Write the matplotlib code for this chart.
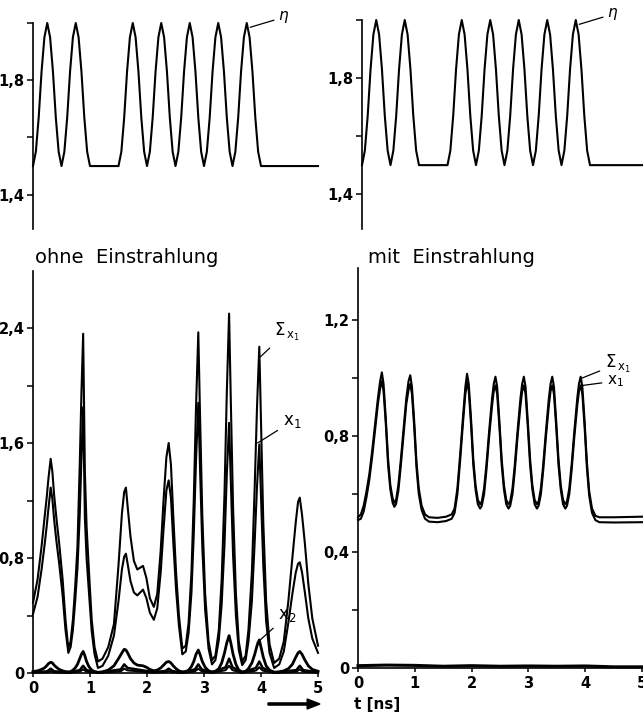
import numpy as np
import matplotlib
matplotlib.use("Agg")
import matplotlib.pyplot as plt

plt.rcParams['font.family'] = ['DejaVu Sans']
plt.rcParams['mathtext.fontset'] = 'dejavusans'

# --- eta (top panels), sampled every 0.05 ns ---
t_eta = np.linspace(0, 5, 101)
eta = [1.50, 1.55, 1.67, 1.83, 1.95, 2.00, 1.95, 1.83, 1.67, 1.55,
       1.50, 1.55, 1.67, 1.83, 1.95, 2.00, 1.95, 1.83, 1.67, 1.55,
       1.50, 1.50, 1.50, 1.50, 1.50, 1.50, 1.50, 1.50, 1.50, 1.50,
       1.50, 1.55, 1.67, 1.83, 1.95, 2.00, 1.95, 1.83, 1.67, 1.55,
       1.50, 1.55, 1.67, 1.83, 1.95, 2.00, 1.95, 1.83, 1.67, 1.55,
       1.50, 1.55, 1.67, 1.83, 1.95, 2.00, 1.95, 1.83, 1.67, 1.55,
       1.50, 1.55, 1.67, 1.83, 1.95, 2.00, 1.95, 1.83, 1.67, 1.55,
       1.50, 1.55, 1.67, 1.83, 1.95, 2.00, 1.95, 1.83, 1.67, 1.55,
       1.50, 1.50, 1.50, 1.50, 1.50, 1.50, 1.50, 1.50, 1.50, 1.50,
       1.50, 1.50, 1.50, 1.50, 1.50, 1.50, 1.50, 1.50, 1.50, 1.50,
       1.50]

# --- ohne Einstrahlung ---
t_left = [0.00, 0.08, 0.15, 0.20, 0.24, 0.27, 0.31, 0.34, 0.37, 0.41,
          0.46, 0.52, 0.57, 0.62, 0.66, 0.70, 0.74, 0.78, 0.82, 0.85,
          0.88, 0.91, 0.94, 0.98, 1.03, 1.08, 1.14, 1.22, 1.32, 1.42,
          1.50, 1.56, 1.60, 1.63, 1.66, 1.71, 1.77, 1.83, 1.93, 1.99,
          2.05, 2.12, 2.18, 2.24, 2.29, 2.34, 2.38, 2.42, 2.46, 2.51,
          2.56, 2.62, 2.68, 2.73, 2.78, 2.82, 2.86, 2.90, 2.93, 2.97,
          3.02, 3.08, 3.14, 3.20, 3.26, 3.31, 3.36, 3.40, 3.44, 3.47,
          3.51, 3.56, 3.61, 3.67, 3.73, 3.78, 3.84, 3.89, 3.93, 3.97,
          4.00, 4.04, 4.09, 4.15, 4.23, 4.32, 4.40, 4.48, 4.55, 4.61,
          4.65, 4.68, 4.72, 4.77, 4.83, 4.90, 5.00]
sum_left = [0.49, 0.65, 0.88, 1.07, 1.22, 1.35, 1.49, 1.40, 1.24, 1.08,
            0.90, 0.65, 0.37, 0.17, 0.22, 0.37, 0.60, 0.88, 1.45, 1.95,
            2.36, 1.40, 1.02, 0.72, 0.37, 0.18, 0.08, 0.10, 0.18, 0.34,
            0.75, 1.11, 1.26, 1.29, 1.16, 0.95, 0.78, 0.72, 0.745, 0.66,
            0.52, 0.46, 0.55, 0.85, 1.20, 1.50, 1.60, 1.45, 1.10, 0.70,
            0.40, 0.17, 0.19, 0.35, 0.70, 1.20, 1.85, 2.37, 1.80, 1.10,
            0.55, 0.22, 0.09, 0.12, 0.30, 0.65, 1.25, 1.95, 2.50, 1.90,
            1.15, 0.55, 0.22, 0.08, 0.12, 0.30, 0.70, 1.30, 1.85, 2.27,
            1.75, 1.05, 0.50, 0.20, 0.07, 0.10, 0.22, 0.50, 0.80, 1.05,
            1.19, 1.22, 1.10, 0.90, 0.62, 0.38, 0.19]
x1_left = [0.41, 0.53, 0.72, 0.88, 1.02, 1.14, 1.29, 1.21, 1.07, 0.92,
           0.76, 0.54, 0.30, 0.14, 0.18, 0.30, 0.50, 0.73, 1.10, 1.50,
           1.85, 1.08, 0.80, 0.57, 0.29, 0.13, 0.035, 0.05, 0.12, 0.26,
           0.50, 0.72, 0.81, 0.83, 0.76, 0.64, 0.56, 0.54, 0.58, 0.52,
           0.42, 0.37, 0.45, 0.70, 1.00, 1.27, 1.34, 1.22, 0.92, 0.58,
           0.33, 0.13, 0.15, 0.28, 0.56, 0.96, 1.48, 1.88, 1.43, 0.88,
           0.44, 0.17, 0.06, 0.09, 0.23, 0.48, 0.90, 1.38, 1.74, 1.34,
           0.82, 0.40, 0.16, 0.055, 0.09, 0.22, 0.50, 0.92, 1.30, 1.59,
           1.23, 0.75, 0.36, 0.14, 0.035, 0.06, 0.15, 0.35, 0.55, 0.70,
           0.76, 0.77, 0.70, 0.56, 0.38, 0.24, 0.14]
x2_left = [0.010, 0.015, 0.025, 0.035, 0.050, 0.065, 0.075, 0.070, 0.055, 0.040,
           0.025, 0.015, 0.010, 0.008, 0.010, 0.020, 0.035, 0.060, 0.100, 0.130,
           0.150, 0.120, 0.080, 0.045, 0.020, 0.010, 0.005, 0.008, 0.020, 0.050,
           0.100, 0.140, 0.165, 0.160, 0.140, 0.100, 0.070, 0.055, 0.050, 0.040,
           0.025, 0.015, 0.020, 0.035, 0.055, 0.075, 0.080, 0.070, 0.050, 0.030,
           0.015, 0.008, 0.010, 0.020, 0.045, 0.080, 0.130, 0.160, 0.130, 0.080,
           0.040, 0.015, 0.008, 0.012, 0.030, 0.070, 0.140, 0.210, 0.260, 0.210,
           0.130, 0.060, 0.020, 0.008, 0.012, 0.030, 0.070, 0.130, 0.190, 0.230,
           0.180, 0.110, 0.050, 0.020, 0.006, 0.008, 0.015, 0.030, 0.060, 0.110,
           0.140, 0.150, 0.130, 0.090, 0.050, 0.025, 0.012]

t_small = [0.00, 0.25, 0.31, 0.37, 0.62, 0.82, 0.88, 0.94, 1.14, 1.54,
           1.60, 1.66, 1.90, 2.12, 2.32, 2.38, 2.44, 2.62, 2.84, 2.90,
           2.96, 3.14, 3.38, 3.44, 3.50, 3.67, 3.91, 3.97, 4.03, 4.23,
           4.62, 4.68, 4.74, 5.00]
x3_left = [0.004, 0.012, 0.03, 0.012, 0.003, 0.02, 0.05, 0.02, 0.002, 0.025,
           0.06, 0.035, 0.02, 0.006, 0.014, 0.03, 0.014, 0.003, 0.025, 0.06,
           0.025, 0.003, 0.04, 0.10, 0.04, 0.003, 0.035, 0.08, 0.035, 0.003,
           0.02, 0.05, 0.02, 0.005]
x4_left = [0.002, 0.005, 0.012, 0.005, 0.001, 0.01, 0.025, 0.01, 0.001, 0.012,
           0.03, 0.018, 0.01, 0.003, 0.006, 0.012, 0.006, 0.001, 0.012, 0.03,
           0.012, 0.001, 0.02, 0.05, 0.02, 0.001, 0.017, 0.04, 0.017, 0.001,
           0.01, 0.025, 0.01, 0.002]

# --- mit Einstrahlung ---
t_right = [0.00, 0.05, 0.10, 0.15, 0.20, 0.25, 0.30, 0.35, 0.39, 0.42,
           0.45, 0.49, 0.53, 0.57, 0.61, 0.64, 0.67, 0.71, 0.75, 0.80,
           0.85, 0.89, 0.92, 0.95, 0.99, 1.03, 1.07, 1.12, 1.18, 1.25,
           1.40, 1.55, 1.65, 1.70, 1.75, 1.80, 1.85, 1.89, 1.92, 1.95,
           1.99, 2.03, 2.07, 2.11, 2.15, 2.18, 2.22, 2.26, 2.31, 2.36,
           2.39, 2.42, 2.45, 2.49, 2.53, 2.57, 2.61, 2.65, 2.68, 2.72,
           2.76, 2.81, 2.86, 2.89, 2.92, 2.95, 2.99, 3.03, 3.07, 3.11,
           3.15, 3.18, 3.22, 3.26, 3.31, 3.36, 3.39, 3.42, 3.45, 3.49,
           3.53, 3.57, 3.61, 3.65, 3.68, 3.72, 3.76, 3.81, 3.86, 3.89,
           3.92, 3.95, 3.99, 4.03, 4.07, 4.12, 4.18, 4.25, 4.50, 5.00]
sum_right = [0.52, 0.53, 0.56, 0.61, 0.67, 0.75, 0.84, 0.93, 0.99, 1.02,
             0.98, 0.86, 0.72, 0.63, 0.585, 0.57, 0.58, 0.63, 0.71, 0.82,
             0.93, 0.99, 1.01, 0.97, 0.85, 0.71, 0.62, 0.56, 0.53, 0.52,
             0.518, 0.522, 0.53, 0.55, 0.62, 0.74, 0.87, 0.97, 1.015, 0.98,
             0.86, 0.72, 0.63, 0.58, 0.565, 0.575, 0.62, 0.70, 0.82, 0.93,
             0.98, 1.005, 0.97, 0.85, 0.72, 0.63, 0.58, 0.565, 0.575, 0.62,
             0.70, 0.82, 0.93, 0.98, 1.005, 0.97, 0.85, 0.72, 0.63, 0.58,
             0.565, 0.575, 0.62, 0.70, 0.82, 0.93, 0.98, 1.005, 0.97, 0.85,
             0.72, 0.63, 0.58, 0.565, 0.575, 0.62, 0.70, 0.82, 0.93, 0.98,
             1.005, 0.97, 0.85, 0.71, 0.61, 0.55, 0.525, 0.52, 0.52, 0.522]
x1_right = [0.51, 0.515, 0.54, 0.59, 0.65, 0.73, 0.82, 0.91, 0.965, 0.99,
            0.955, 0.84, 0.70, 0.615, 0.57, 0.556, 0.566, 0.61, 0.69, 0.80,
            0.91, 0.96, 0.98, 0.945, 0.83, 0.69, 0.60, 0.545, 0.515, 0.505,
            0.503, 0.507, 0.515, 0.535, 0.60, 0.72, 0.85, 0.945, 0.985, 0.955,
            0.84, 0.70, 0.615, 0.565, 0.55, 0.56, 0.60, 0.68, 0.80, 0.905,
            0.955, 0.975, 0.945, 0.83, 0.70, 0.615, 0.565, 0.55, 0.56, 0.60,
            0.68, 0.80, 0.905, 0.955, 0.975, 0.945, 0.83, 0.70, 0.615, 0.565,
            0.55, 0.56, 0.60, 0.68, 0.80, 0.905, 0.955, 0.975, 0.945, 0.83,
            0.70, 0.615, 0.565, 0.55, 0.56, 0.60, 0.68, 0.80, 0.905, 0.955,
            0.975, 0.945, 0.83, 0.69, 0.595, 0.535, 0.51, 0.503, 0.502, 0.503]
t_zero = [0.0, 0.5, 1.0, 1.5, 2.0, 2.5, 3.0, 3.5, 4.0, 4.5, 5.0]
x2_right = [0.008, 0.010, 0.009, 0.006, 0.008, 0.006, 0.007, 0.006, 0.007, 0.004, 0.004]


def style_axis(ax, yticks, ylabels, ylim, show_x):
    ax.set_xlim(0, 5)
    ax.set_ylim(*ylim)
    ax.spines['top'].set_visible(False)
    ax.spines['right'].set_visible(False)
    ax.spines['left'].set_linewidth(1.2)
    ax.set_yticks(yticks)
    ax.set_yticklabels(ylabels)
    ax.tick_params(axis='y', direction='out', length=4, width=1.1,
                   labelsize=10.5, pad=2)
    if show_x:
        ax.spines['bottom'].set_linewidth(1.2)
        ax.set_xticks([0, 1, 2, 3, 4, 5])
        ax.set_xticklabels(['0', '1', '2', '3', '4', '5'])
        ax.tick_params(axis='x', direction='out', length=3, width=1.1,
                       labelsize=10.5, pad=3)
    else:
        ax.spines['bottom'].set_visible(False)
        ax.set_xticks([])
    for lab in ax.get_yticklabels() + ax.get_xticklabels():
        lab.set_fontweight('bold')
    ax.patch.set_alpha(0)


fig = plt.figure(figsize=(6.43, 7.15), dpi=100)
W, H = 643.0, 715.0
ax_tl = fig.add_axes([33 / W, 1 - 229 / H, 285 / W, 206 / H])
ax_tr = fig.add_axes([362 / W, 1 - 229 / H, 285 / W, 209 / H])
ax_bl = fig.add_axes([33 / W, 1 - 673 / H, 285 / W, 402.5 / H])
ax_br = fig.add_axes([358 / W, 1 - 668 / H, 284 / W, 400 / H])

lw = 1.5
for ax in (ax_tl, ax_tr):
    ax.plot(t_eta, eta, color='black', lw=lw, clip_on=False)
    style_axis(ax, [1.4, 1.6, 1.8, 2.0], ['1,4', '', '1,8', ''], (1.28, 2.0), False)
    ax.annotate(r'$\eta$', xy=(3.81, 1.985), xytext=(4.3, 2.02),
                fontsize=11, ha='left', va='center', annotation_clip=False,
                arrowprops=dict(arrowstyle='-', lw=0.9, color='black',
                                shrinkA=1, shrinkB=0))

# bottom left
ax_bl.plot(t_left, sum_left, color='black', lw=lw, clip_on=False)
ax_bl.plot(t_left, x1_left, color='black', lw=lw, clip_on=False)
ax_bl.plot(t_left, x2_left, color='black', lw=2.0, clip_on=False)
ax_bl.plot(t_small, x3_left, color='black', lw=1.8, clip_on=False)
ax_bl.plot(t_small, x4_left, color='black', lw=1.5, clip_on=False)
style_axis(ax_bl, [0, 0.4, 0.8, 1.2, 1.6, 2.0, 2.4],
           ['0', '', '0,8', '', '1,6', '', '2,4'], (0, 2.8), True)
ax_bl.annotate(r'$\Sigma_{\,\mathrm{x}_1}$', xy=(3.99, 2.20), xytext=(4.22, 2.37),
               fontsize=12, ha='left', va='center',
               arrowprops=dict(arrowstyle='-', lw=0.9, color='black', shrinkA=2, shrinkB=0))
ax_bl.annotate(r'$\mathrm{x}_1$', xy=(3.94, 1.60), xytext=(4.38, 1.75),
               fontsize=12, ha='left', va='center',
               arrowprops=dict(arrowstyle='-', lw=0.9, color='black', shrinkA=2, shrinkB=0))
ax_bl.annotate(r'$\mathrm{x}_2$', xy=(3.93, 0.21), xytext=(4.3, 0.40),
               fontsize=12, ha='left', va='center',
               arrowprops=dict(arrowstyle='-', lw=0.9, color='black', shrinkA=2, shrinkB=0))

# bottom right
ax_br.plot(t_right, sum_right, color='black', lw=lw, clip_on=False)
ax_br.plot(t_right, x1_right, color='black', lw=lw, clip_on=False)
ax_br.plot(t_zero, x2_right, color='black', lw=2.2, clip_on=False)
style_axis(ax_br, [0, 0.2, 0.4, 0.6, 0.8, 1.0, 1.2],
           ['0', '', '0,4', '', '0,8', '', '1,2'], (0, 1.38), True)
ax_br.annotate(r'$\Sigma_{\,\mathrm{x}_1}$', xy=(3.94, 1.00), xytext=(4.35, 1.05),
               fontsize=12, ha='left', va='center',
               arrowprops=dict(arrowstyle='-', lw=0.9, color='black', shrinkA=2, shrinkB=0))
ax_br.annotate(r'$\mathrm{x}_1$', xy=(3.96, 0.975), xytext=(4.39, 0.99),
               fontsize=11, ha='left', va='center',
               arrowprops=dict(arrowstyle='-', lw=0.9, color='black', shrinkA=2, shrinkB=0))

# titles
fig.text(35 / W, 1 - 258 / H, 'ohne  Einstrahlung', fontsize=14, ha='left', va='center')
fig.text(368 / W, 1 - 258 / H, 'mit  Einstrahlung', fontsize=14, ha='left', va='center')

# time arrow
fig.patches.append(matplotlib.patches.FancyArrow(
    268 / W, 1 - 704 / H, 52 / W, 0, width=0.003, head_width=0.014,
    head_length=0.02, length_includes_head=True, color='black',
    transform=fig.transFigure, figure=fig))
fig.text(354 / W, 1 - 705 / H, 't [ns]', fontsize=11, fontweight='bold',
         ha='left', va='center')

fig.savefig('out.png', dpi=100)
